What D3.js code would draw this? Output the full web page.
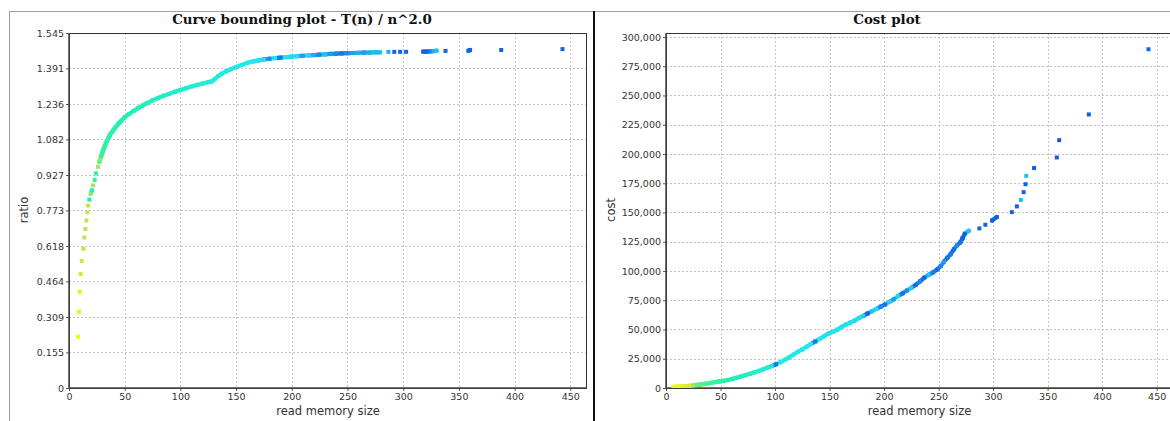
<!DOCTYPE html>
<html>
<head>
<meta charset="utf-8">
<script type="text/javascript" src="https://cdn.jsdelivr.net/npm/d3@7"></script>
<title>Curve bounding plot / Cost plot</title>
<style>
body { margin: 0; background: #fff; }
svg text { fill: #333; }
</style>
</head>
<body>
<div id="viz"></div>
<script type="text/javascript">

// ---- left chart: ratio T(n)/n^2 against read memory size ----
var ratioN = [8.1, 9.0, 9.6, 10.5, 11.4, 12.9, 13.8, 14.7, 15.6, 16.5, 17.1, 18.2, 19.5, 20.5, 21.6, 23.0, 24.2, 26.0,
    27.3, 28, 29, 30, 31, 32, 33, 34, 35, 36.5, 38, 39.5, 41, 42.5, 44, 45.5, 47, 50, 54, 58, 62, 66, 70, 75, 80, 85,
    90, 95, 100, 105, 110, 115, 120, 125, 128, 131, 134, 137, 141, 145, 150, 155, 160, 165, 170, 175, 180, 185, 190,
    195, 200, 205, 210, 215, 220, 225, 230, 235, 240, 245, 250, 255, 260, 265, 270, 275, 279,
    286.7, 292, 297.3, 302.6, 318, 321, 324, 327, 330, 338, 358.6, 360, 388, 443];
var ratioVal = [0.223, 0.332, 0.419, 0.496, 0.553, 0.606, 0.655, 0.692, 0.729, 0.765, 0.794, 0.820, 0.845, 0.860, 0.882, 0.905, 0.934, 0.963,
    0.985, 0.995, 1.010, 1.025, 1.038, 1.052, 1.064, 1.075, 1.085, 1.098, 1.110, 1.120, 1.130, 1.139, 1.148, 1.156, 1.163, 1.178, 1.193, 1.206, 1.218, 1.229, 1.240, 1.252, 1.262, 1.272,
    1.280, 1.289, 1.297, 1.305, 1.312, 1.319, 1.325, 1.331, 1.334, 1.345, 1.358, 1.368, 1.378, 1.387, 1.397, 1.406, 1.415, 1.421, 1.426, 1.430, 1.433, 1.436, 1.438,
    1.440, 1.442, 1.444, 1.446, 1.448, 1.449, 1.451, 1.452, 1.454, 1.455, 1.456, 1.457, 1.458, 1.459, 1.460, 1.460, 1.461, 1.461,
    1.463, 1.463, 1.463, 1.463, 1.464, 1.464, 1.465, 1.466, 1.468, 1.467, 1.468, 1.471, 1.471, 1.475];
var ratioHeat = [0, 0.05, 0.05, 0.1, 0.12, 0.15, 0.15, 0.15, 0.15, 0.15, 0.15, 0.45, 0.2, 0.45, 0.2, 0.4, 0.42, 0.2,
    0.4, 0.2, 0.4, 0.4, 0.4, 0.42, 0.42, 0.42, 0.42, 0.42, 0.42, 0.43, 0.43, 0.43, 0.44, 0.44, 0.44, 0.44, 0.45, 0.45, 0.46, 0.46, 0.47, 0.47, 0.48, 0.48,
    0.5, 0.5, 0.5, 0.52, 0.52, 0.52, 0.53, 0.53, 0.54, 0.55, 0.55, 0.56, 0.56, 0.58, 0.58, 0.6, 0.6, 0.6, 0.62, 0.62, 0.85, 0.62, 0.9,
    0.62, 0.64, 0.62, 0.8, 0.64, 0.75, 0.85, 0.7, 0.8, 0.85, 0.9, 0.85, 0.8, 0.75, 0.8, 0.75, 0.72, 0.72,
    0.75, 0.95, 0.95, 0.95, 0.95, 0.95, 0.9, 0.75, 0.7, 0.95, 0.95, 0.95, 0.95, 0.95];
var ratioTicks = [0, 0.155, 0.309, 0.464, 0.618, 0.773, 0.927, 1.082, 1.236, 1.391, 1.545];

// ---- right chart: cost against read memory size ----
var costN = [7, 10, 13, 16, 19, 22, 25, 28, 31, 34, 37, 41, 45, 49, 53, 57, 61, 65, 69, 73, 77, 81, 85, 89, 93, 97, 101,
    105, 109, 113, 117, 121, 125, 129, 133, 137, 141, 145, 149, 153, 157, 161, 165, 169, 173, 177, 181, 185, 189, 193,
    197, 201, 205, 209, 213, 217, 221, 225, 229, 233, 237, 241, 245, 249, 252, 255, 258, 261, 264, 267, 270, 272, 274,
    277.7, 287.4, 292.9, 299, 303.4, 317.2, 321.8, 325.4, 328, 329.8, 330.4, 337.6, 358.4, 360.6, 387.8, 442.5];
var costVal = [1000, 1100, 1200, 1400, 1600, 1900, 2200, 2600, 2900, 3300, 3800, 4400, 5000, 5600, 6100, 6900, 7800, 8800, 9900, 11000, 12100, 13300, 14600, 15900, 17300, 18700, 20300,
    22200, 24100, 26200, 28600, 31000, 33000, 35300, 37600, 39800, 42000, 44300, 46500, 48000, 49800, 52200, 54200, 55900, 57600, 59900, 61700, 63700, 65600, 67600,
    69600, 71400, 73700, 75900, 78600, 80900, 83300, 85600, 88100, 91200, 94400, 96700, 98800, 101500, 104300, 108000, 111300, 114300, 118500, 122000, 124500, 128000, 131800,
    134400, 136400, 139500, 143200, 146200, 150300, 155200, 160700, 167400, 174200, 181300, 188000, 197000, 211800, 233800, 289500];
var costHeat = [0, 0.02, 0.04, 0.06, 0.08, 0.1, 0.2, 0.28, 0.3, 0.33, 0.35, 0.37, 0.4, 0.42, 0.43, 0.44, 0.45, 0.46, 0.47, 0.48, 0.5, 0.5, 0.52, 0.53, 0.54, 0.55, 0.9,
    0.56, 0.57, 0.58, 0.58, 0.6, 0.6, 0.6, 0.6, 0.9, 0.6, 0.62, 0.62, 0.62, 0.62, 0.62, 0.62, 0.62, 0.63, 0.63, 0.64, 0.95, 0.7, 0.63,
    0.85, 0.92, 0.64, 0.8, 0.64, 0.9, 0.85, 0.64, 0.92, 0.85, 0.95, 0.7, 0.88, 0.92, 0.85, 0.8, 0.9, 0.88, 0.92, 0.85, 0.9, 0.95, 0.95,
    0.7, 0.95, 0.95, 0.95, 0.95, 0.95, 0.95, 0.72, 0.95, 0.95, 0.7, 0.97, 0.97, 0.97, 0.97, 0.95];
var costTicks = [0, 25000, 50000, 75000, 100000, 125000, 150000, 175000, 200000, 225000, 250000, 275000, 300000];

var sizeTicks = [0, 50, 100, 150, 200, 250, 300, 350, 400, 450];

var W = 1170, H = 421;
var heatColor = d3.scaleLinear()
    .domain([0, 0.15, 0.3, 0.45, 0.6, 0.8, 1])
    .range(["#eeff00", "#c8e052", "#5cf078", "#22f0b4", "#22e8ee", "#1f9cf0", "#1150dc"]);

var svg = d3.select("#viz").append("svg")
    .attr("width", W)
    .attr("height", H)
    .style("display", "block")
    .style("font-family", "'DejaVu Sans', sans-serif");

svg.append("rect").attr("width", W).attr("height", H).attr("fill", "#fff");

// panel frames
svg.append("line").attr("x1", 9).attr("x2", W).attr("y1", 11.5).attr("y2", 11.5)
    .attr("stroke", "#a0a0a0");
svg.append("line").attr("x1", 9.5).attr("x2", 9.5).attr("y1", 11).attr("y2", H)
    .attr("stroke", "#a0a0a0");
svg.append("line").attr("x1", 594).attr("x2", 594).attr("y1", 11).attr("y2", H)
    .attr("stroke", "#111").attr("stroke-width", 2);

function drawPanel(cfg) {
    var g = svg.append("g");
    var x = d3.scaleLinear().domain([0, 465]).range([cfg.left, cfg.right]);
    var y = d3.scaleLinear().domain([0, cfg.yMax]).range([388, 33]);

    g.append("text")
        .attr("x", cfg.titleX).attr("y", 24)
        .attr("text-anchor", "middle")
        .style("font-family", "'DejaVu Serif', serif")
        .style("font-weight", "bold")
        .style("font-size", "13.4px")
        .style("fill", "#111")
        .text(cfg.title);

    // grid
    g.selectAll("line.vgrid").data(sizeTicks.slice(1)).enter().append("line")
        .attr("class", "vgrid")
        .attr("x1", function(d){ return Math.round(x(d)) + 0.5; })
        .attr("x2", function(d){ return Math.round(x(d)) + 0.5; })
        .attr("y1", 33).attr("y2", 388)
        .attr("stroke", "#c4c4c4").attr("stroke-dasharray", "2,2");
    g.selectAll("line.hgrid").data(cfg.yTicks.slice(1)).enter().append("line")
        .attr("class", "hgrid")
        .attr("x1", cfg.left).attr("x2", cfg.right)
        .attr("y1", function(d){ return Math.round(y(d)) + 0.5; })
        .attr("y2", function(d){ return Math.round(y(d)) + 0.5; })
        .attr("stroke", "#c4c4c4").attr("stroke-dasharray", "2,2");

    // axes
    var xAxis = d3.axisBottom(x).tickValues(sizeTicks).tickSize(3).tickPadding(2);
    var yAxis = d3.axisLeft(y).tickValues(cfg.yTicks).tickSize(3).tickPadding(2).tickFormat(cfg.fmt);
    var gx = g.append("g").attr("transform", "translate(0,388)").call(xAxis);
    var gy = g.append("g").attr("transform", "translate(" + cfg.left + ",0)").call(yAxis);
    [gx, gy].forEach(function(a){
        a.select(".domain").remove();
        a.selectAll(".tick line").attr("stroke", "#555");
        a.selectAll(".tick text").style("font-size", "9.5px").style("fill", "#333")
            .style("font-family", "'DejaVu Sans', sans-serif");
    });

    // plot outline
    g.append("rect")
        .attr("x", cfg.left + 0.5).attr("y", 33.5)
        .attr("width", cfg.right - cfg.left - 1).attr("height", 355)
        .attr("fill", "none").attr("stroke", "#333");
    g.append("line").attr("x1", cfg.left).attr("x2", cfg.right).attr("y1", 388).attr("y2", 388)
        .attr("stroke", "#444").attr("stroke-width", 1.5);
    g.append("line").attr("x1", cfg.left).attr("x2", cfg.left).attr("y1", 33).attr("y2", 389)
        .attr("stroke", "#444").attr("stroke-width", 1.5);

    // axis titles
    g.append("text")
        .attr("x", (cfg.left + cfg.right) / 2).attr("y", 415)
        .attr("text-anchor", "middle")
        .style("font-size", "11.5px")
        .text("read memory size");
    g.append("text")
        .attr("transform", "translate(" + cfg.yLabelX + ",210) rotate(-90)")
        .attr("text-anchor", "middle")
        .style("font-size", "11.5px")
        .text(cfg.yLabel);

    // points
    var pts = cfg.n.map(function(d, i){
        return { n: d, v: cfg.v[i], h: cfg.heat[i] };
    });
    var clipId = "clip" + cfg.id;
    svg.append("clipPath").attr("id", clipId).append("rect")
        .attr("x", cfg.left).attr("y", 33).attr("width", cfg.right - cfg.left).attr("height", 355);
    var layer = g.append("g").attr("clip-path", "url(#" + clipId + ")");

    // where markers sit shoulder to shoulder they merge into one band
    var links = [];
    for (var i = 1; i < pts.length; i++) {
        var a = pts[i - 1], b = pts[i];
        var dx = Math.abs(x(b.n) - x(a.n)), dy = Math.abs(y(b.v) - y(a.v));
        if (dx < 5.8 && dy < 5) links.push([a, b]);
    }
    layer.selectAll("line.link").data(links).enter().append("line")
        .attr("class", "link")
        .attr("x1", function(d){ return x(d[0].n); })
        .attr("y1", function(d){ return y(d[0].v); })
        .attr("x2", function(d){ return x(d[1].n); })
        .attr("y2", function(d){ return y(d[1].v); })
        .attr("stroke", function(d){ return heatColor(d[1].h); })
        .attr("stroke-width", 4.2)
        .attr("stroke-linecap", "round");

    layer.selectAll("rect.pt").data(pts).enter().append("rect")
        .attr("class", "pt")
        .attr("x", function(d){ return x(d.n) - 2; })
        .attr("y", function(d){ return y(d.v) - 2; })
        .attr("width", 4).attr("height", 4)
        .attr("fill", function(d){ return heatColor(d.h); });
}

drawPanel({
    id: "L", left: 69, right: 587, titleX: 302,
    title: "Curve bounding plot - T(n) / n^2.0",
    yMax: 1.545, yTicks: ratioTicks, fmt: function(d){ return d === 0 ? "0" : d3.format(".3f")(d); },
    yLabel: "ratio", yLabelX: 28,
    n: ratioN, v: ratioVal, heat: ratioHeat
});

drawPanel({
    id: "R", left: 666, right: 1173, titleX: 887,
    title: "Cost plot",
    yMax: 303400, yTicks: costTicks, fmt: d3.format(","),
    yLabel: "cost", yLabelX: 615,
    n: costN, v: costVal, heat: costHeat
});

</script>
</body>
</html>
